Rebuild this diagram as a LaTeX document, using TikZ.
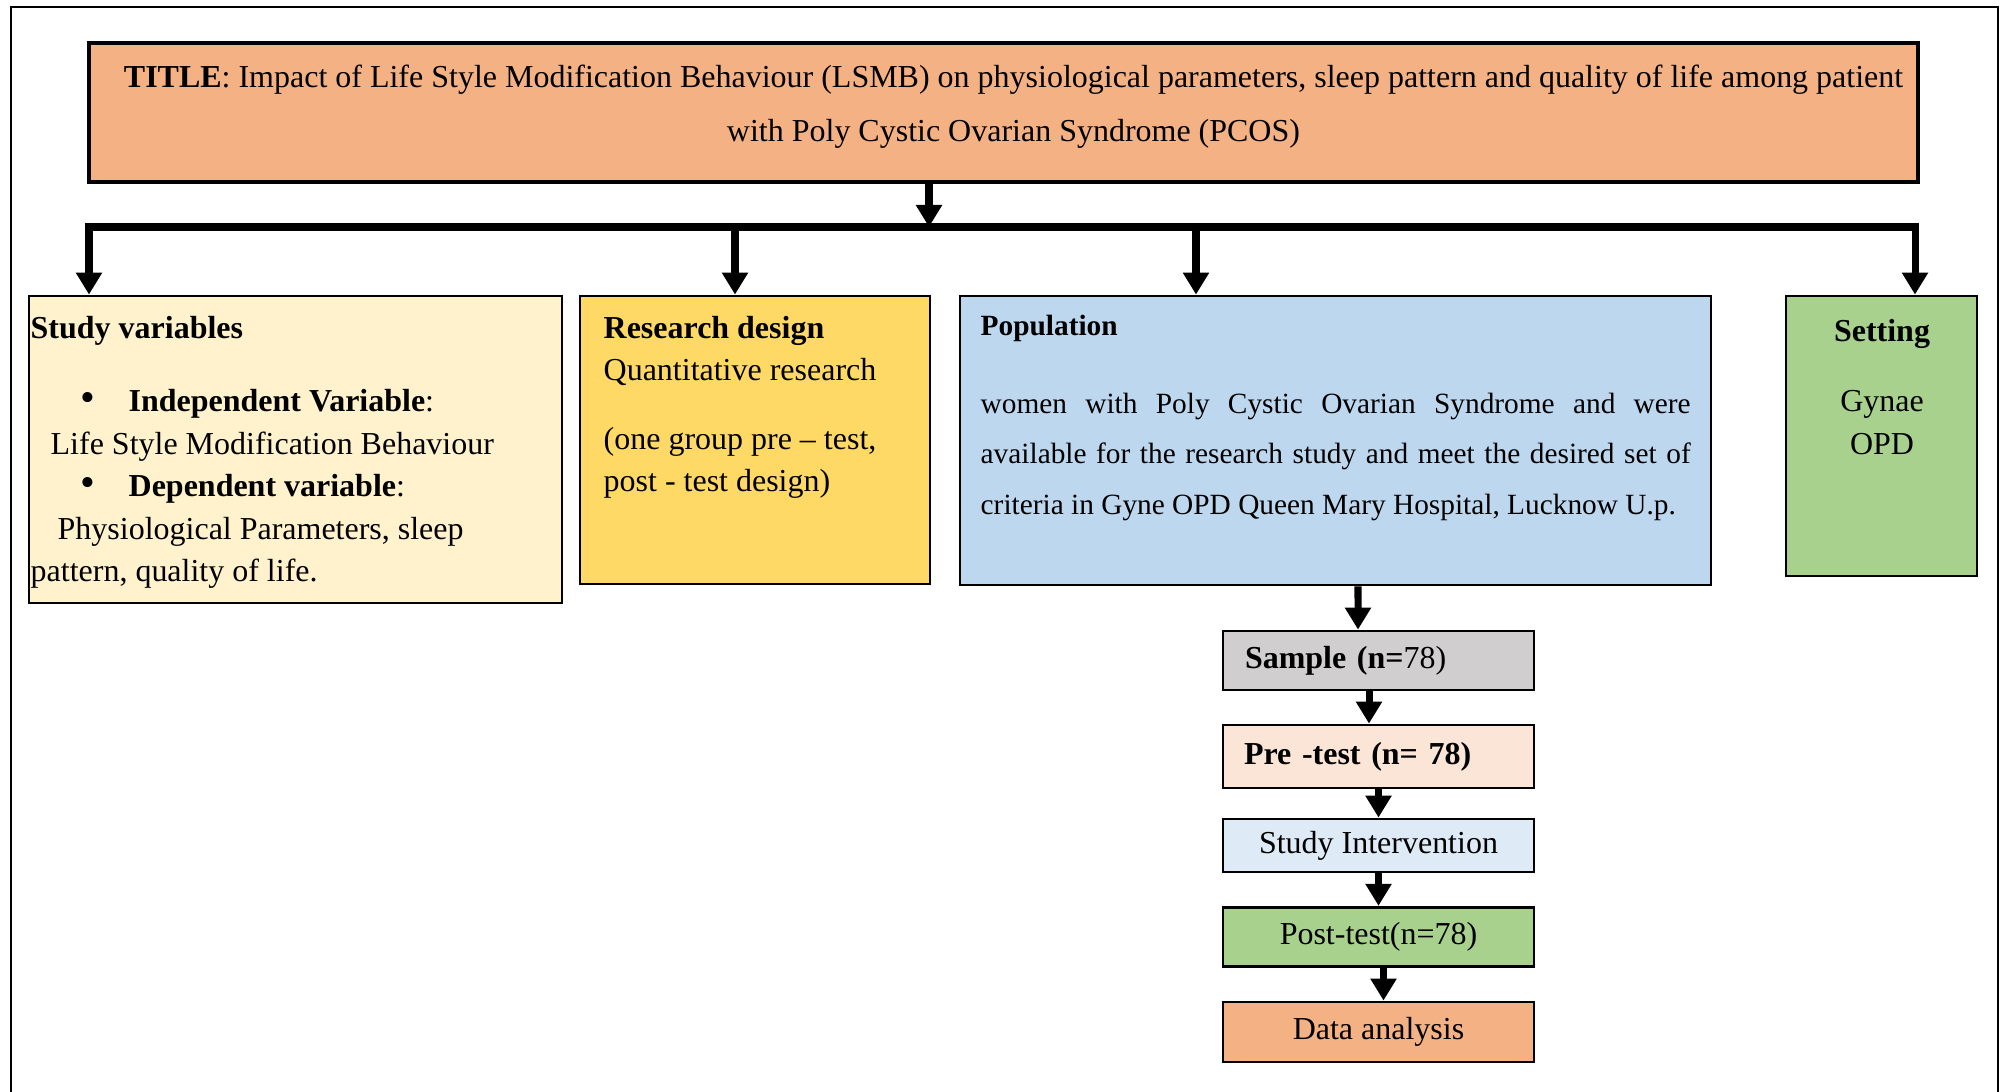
\documentclass[tikz,border=0pt]{standalone}
\usepackage{fontspec}
\setmainfont{Liberation Serif}
\usepackage{tikz}
\usetikzlibrary{arrows.meta, positioning, calc}

\definecolor{titlefill}{HTML}{F4B183}
\definecolor{svfill}{HTML}{FFF2CC}
\definecolor{rdfill}{HTML}{FFD966}
\definecolor{popfill}{HTML}{BDD7EE}
\definecolor{setfill}{HTML}{A9D18E}
\definecolor{sampfill}{HTML}{D0CECE}
\definecolor{prefill}{HTML}{FBE5D6}
\definecolor{intfill}{HTML}{DEEBF7}

\newcommand{\bul}{\hspace*{0.5cm}\makebox[0.48cm][l]{{\fontsize{12}{12}\selectfont\textbullet}}}

\begin{document}
\begin{tikzpicture}[
  box/.style={draw=black, line width=0.8pt, inner sep=0pt},
  bodyfont/.style={font=\fontsize{9.1}{12.1}\selectfont},
  popfont/.style={font=\fontsize{8.35}{14.4}\selectfont},
  txt/.style={anchor=base west, align=left, inner sep=0pt},
  bigarrow/.style={line width=2pt, -{Triangle[width=0.25cm,length=0.22cm]}},
  flowbox/.style={box, bodyfont, minimum width=3.11cm},
]
\useasboundingbox (0,0) rectangle (20,-10.92);

% Frame
\draw[line width=0.6pt] (0.11,-10.92) -- (0.11,-0.07) -- (19.98,-0.07) -- (19.98,-10.92);

% Title
\node[box, line width=1.4pt, fill=titlefill, minimum width=18.29cm, minimum height=1.39cm] (title) at (10.035,-1.125) {};
\node[anchor=base, align=center, inner sep=0pt, font=\fontsize{9.1}{15.6}\selectfont] (titletext) at (10.135,-1.42)
  {\textbf{TITLE}: Impact of Life Style Modification Behaviour (LSMB) on physiological parameters, sleep pattern and quality of life among patient\\
   with Poly Cystic Ovarian Syndrome (PCOS)};

% Bus
\coordinate (busL) at (0.89,-2.27);
\coordinate (busT) at (9.29,-2.27);
\coordinate (bus2) at (7.35,-2.27);
\coordinate (bus3) at (11.96,-2.27);
\coordinate (busR) at (19.15,-2.27);
\draw[line width=2pt, line cap=rect] (busL) -- (busR);
\draw[bigarrow] (title.south -| busT) -- (busT);

% Boxes
\node[box, fill=svfill, minimum width=5.33cm, minimum height=3.07cm] (sv) at (2.955,-4.495) {};
\node[box, fill=rdfill, minimum width=3.50cm, minimum height=2.88cm] (rd) at (7.55,-4.40) {};
\node[box, fill=popfill, minimum width=7.51cm, minimum height=2.89cm] (pop) at (13.355,-4.405) {};
\node[box, fill=setfill, minimum width=1.91cm, minimum height=2.80cm] (set) at (18.815,-4.36) {};

\draw[bigarrow] (busL) -- (busL |- sv.north);
\draw[bigarrow] (bus2) -- (bus2 |- rd.north);
\draw[bigarrow] (bus3) -- (bus3 |- pop.north);
\draw[bigarrow] (busR) -- (busR |- set.north);

% Texts (base = last line)
\node[txt, bodyfont] (svtext) at (0.30,-5.82)
  {\textbf{Study variables}\\[0.31cm]
   \bul\textbf{Independent Variable}:\\
   \hspace*{0.2cm}Life Style Modification Behaviour\\
   \bul\textbf{Dependent variable}:\\
   \hspace*{0.27cm}Physiological Parameters, sleep\\
   pattern, quality of life.};
\node[txt, bodyfont] (rdtext) at (6.03,-4.92)
  {\textbf{Research design}\\
   Quantitative research\\[0.26cm]
   (one group pre – test,\\
   post - test design)};
\node[txt, popfont] (poptext) at (9.80,-5.145)
  {\textbf{Population}\\[0.275cm]
   \makebox[7.1cm][s]{women with Poly Cystic Ovarian Syndrome and were}\\
   \makebox[7.1cm][s]{available for the research study and meet the desired set of}\\
   criteria in Gyne OPD Queen Mary Hospital, Lucknow U.p.};
\node[bodyfont, anchor=base, align=center, inner sep=0pt] (settext) at (18.82,-4.545)
  {\textbf{Setting}\\[0.275cm] Gynae\\ OPD};

% Flow
\node[flowbox, fill=sampfill, minimum height=0.59cm, text width=2.67cm, align=left, inner xsep=0.22cm] (samp) at (13.785,-6.605) {\textbf{Sample (n=}78)};
\node[flowbox, fill=prefill, minimum height=0.63cm, text width=2.69cm, align=left, inner xsep=0.21cm] (pre) at (13.785,-7.565) {\textbf{Pre -test (n= 78)}};
\node[flowbox, fill=intfill, minimum height=0.53cm] (interv) at (13.785,-8.455) {Study Intervention};
\node[flowbox, fill=setfill, minimum height=0.595cm] (post) at (13.785,-9.37) {Post-test(n=78)};
\node[flowbox, fill=titlefill, minimum height=0.60cm] (da) at (13.785,-10.32) {Data analysis};

\draw[bigarrow] ([xshift=2.25mm]pop.south) -- ([xshift=-2.05mm]samp.north);
\draw[bigarrow] ([xshift=-0.95mm]samp.south) -- ([xshift=-0.95mm]pre.north);
\draw[bigarrow] (pre) -- (interv);
\draw[bigarrow] (interv) -- (post);
\draw[bigarrow] ([xshift=0.5mm]post.south) -- ([xshift=0.5mm]da.north);
\end{tikzpicture}
\end{document}
